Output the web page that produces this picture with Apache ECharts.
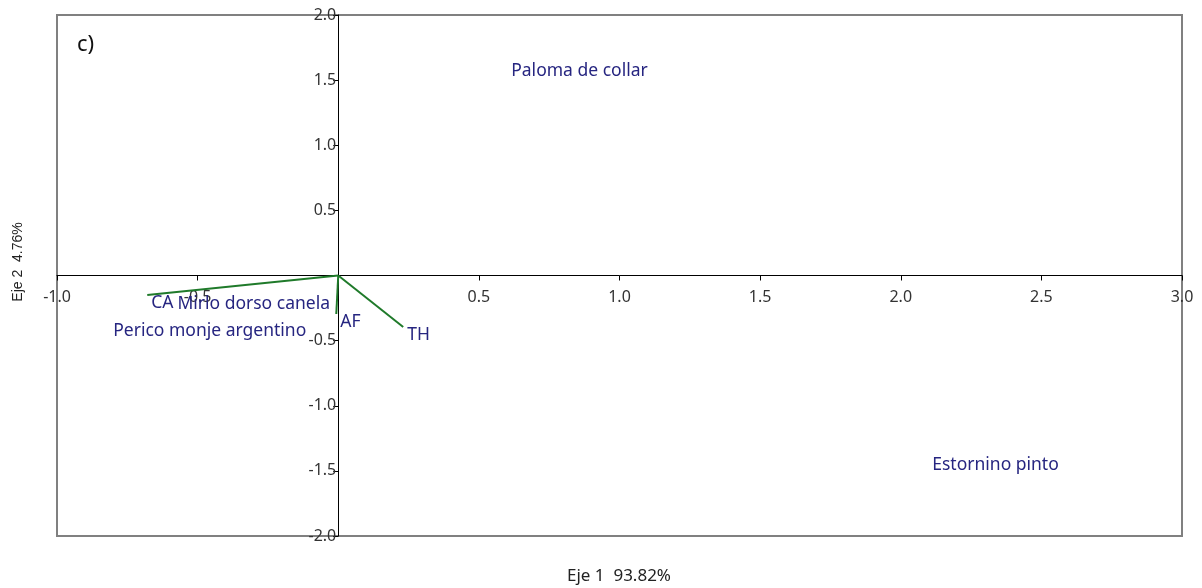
<!DOCTYPE html>
<html lang="es">
<head>
    <meta charset="UTF-8">
    <title>Biplot c)</title>
    <script src="https://cdn.jsdelivr.net/npm/echarts@6/dist/echarts.min.js"></script>
</head>
<style>
    html,body{ margin:0; padding:0; background:#fff; }
    #chart{ width:1202px; height:588px; }
</style>
<body>
    <div id="chart"></div>
    <script>
        // puntos de especies (scores)
        var speciesNames=['Paloma de collar','Estornino pinto','Mirlo dorso canela','Perico monje argentino'];
        var speciesX=[0.615,2.112,-0.572,-0.80];
        var speciesY=[1.57,-1.455,-0.219,-0.426];
        // vectores de variables
        var varNames=['CA','AF','TH'];
        var varX=[-0.679,-0.007,0.231];
        var varY=[-0.150,-0.296,-0.395];

        var labelColor='#262580';
        var lineColor='#1f7a2a';
        var font='"Noto Sans", "Open Sans", sans-serif';

        function tickFmt(v){
            if(Math.abs(v)<1e-9) return '';
            return v.toFixed(1);
        }

        var series=[];
        for(var i=0;i<varNames.length;i++){
            series.push({
                type:'line',
                data:[[0,0],[varX[i],varY[i]]],
                symbol:'none',
                lineStyle:{color:lineColor,width:2},
                silent:true,
                z:3
            });
        }
        series.push({
            type:'scatter',
            symbolSize:0,
            itemStyle:{opacity:1},
            data:varNames.map(function(n,i){ return {name:n,value:[varX[i],varY[i]]}; }),
            label:{
                show:true,position:'right',distance:0,offset:[4,8],opacity:1,
                formatter:'{b}',color:labelColor,fontSize:17.5,fontFamily:font
            },
            z:4
        });
        series.push({
            type:'scatter',
            symbolSize:0,
            itemStyle:{opacity:1},
            data:speciesNames.map(function(n,i){ return {name:n,value:[speciesX[i],speciesY[i]]}; }),
            label:{
                show:true,position:'right',distance:0,opacity:1,
                formatter:'{b}',color:labelColor,fontSize:17.5,fontFamily:font
            },
            z:4
        });

        var chart=echarts.init(document.getElementById('chart'));
        // ejes cruzando en el origen: se desplazan con offset
        var gridTop=15,gridBottom=52,gridLeft=57,gridRight=20;
        var plotH=588-gridTop-gridBottom, plotW=1202-gridLeft-gridRight;
        var xAxisOffset=-(plotH*0.5);      // y=0 en el centro vertical
        var yAxisOffset=-(plotW*0.25);     // x=0 a 1/4 del ancho
        chart.setOption({
            animation:false,
            grid:{
                left:gridLeft,right:gridRight,top:gridTop,bottom:gridBottom,
                show:true,borderColor:'#808080',borderWidth:2,backgroundColor:'transparent'
            },
            xAxis:{
                type:'value',min:-1,max:3,interval:0.5,
                position:'bottom',offset:xAxisOffset,
                axisLine:{onZero:false,lineStyle:{color:'#000',width:1}},
                axisTick:{show:true,length:5,lineStyle:{color:'#000'}},
                axisLabel:{formatter:tickFmt,color:'#333',fontSize:16,margin:14,fontFamily:font},
                splitLine:{show:false}
            },
            yAxis:{
                type:'value',min:-2,max:2,interval:0.5,
                position:'left',offset:yAxisOffset,
                axisLine:{onZero:false,lineStyle:{color:'#000',width:1}},
                axisTick:{show:true,length:5,lineStyle:{color:'#000'}},
                axisLabel:{formatter:tickFmt,color:'#333',fontSize:16,margin:2,fontFamily:font},
                splitLine:{show:false}
            },
            graphic:[
                {type:'text',left:77,top:34,style:{text:'c)',fontSize:22,fill:'#111',fontFamily:font}},
                {type:'text',x:619,y:576,style:{text:'Eje 1  93.82%',fontSize:17,fill:'#222',fontFamily:font,align:'center',verticalAlign:'middle'}},
                {type:'text',x:18,y:262,rotation:Math.PI/2,style:{text:'Eje 2  4.76%',fontSize:14,fill:'#222',fontFamily:'"Liberation Sans", Arial, sans-serif',align:'center',verticalAlign:'middle'}}
            ],
            series:series
        });
    </script>
</body>
</html>
